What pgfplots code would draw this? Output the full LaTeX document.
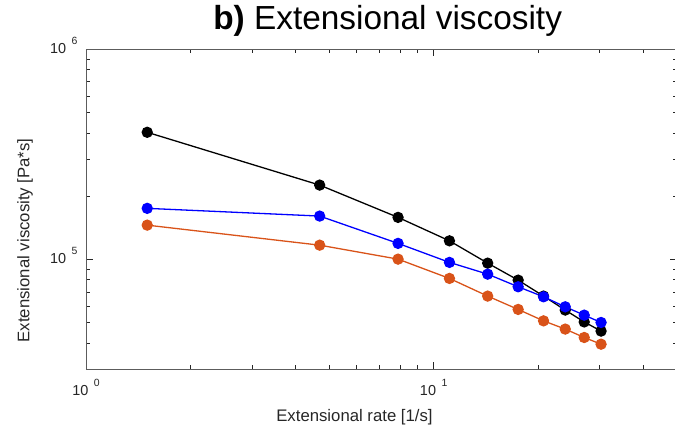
\documentclass[border=0pt]{standalone}
\usepackage{fontspec}
\setmainfont{Liberation Sans}
\usepackage{pgfplots}
\usepackage{pgfplotstable}
\pgfplotsset{compat=1.18}

\definecolor{mlorange}{rgb}{0.85,0.325,0.098}
\definecolor{axgray}{rgb}{0.15,0.15,0.15}

% MATLAB style "10 ^n" tick label
\newcommand{\dec}[1]{10\hspace{5.5bp}\raisebox{9bp}[0pt][0pt]{\fontsize{10.5}{10.5}\selectfont #1}}

% rate [1/s], extensional viscosity [Pa*s]
\pgfplotstableread{
rate  visc
1.5   402700
4.7   225800
7.9   158500
11.1  122600
14.3  96000
17.5  79700
20.7  66900
23.9  57400
27.1  50400
30.3  45600
}\blackdata
\pgfplotstableread{
rate  visc
1.5   175000
4.7   160800
7.9   119200
11.1  96800
14.3  85100
17.5  74100
20.7  66400
23.9  59500
27.1  54300
30.3  50100
}\bluedata
\pgfplotstableread{
rate  visc
1.5   145600
4.7   116900
7.9   100300
11.1  81200
14.3  66900
17.5  57800
20.7  51000
23.9  46600
27.1  42500
30.3  39500
}\orangedata

\begin{document}
\begin{tikzpicture}
\begin{axis}[
    name=ax,
    xmode=log, ymode=log,
    scale only axis, width=590.7bp, height=320bp,
    xmin=1, xmax=50, ymin=3e4, ymax=1e6,
    xtick={1,10}, xticklabels={\dec{0},\dec{1}},
    ytick={1e5,1e6}, yticklabels={\dec{5},\dec{6}},
    minor xtick={2,3,4,5,6,7,8,9,20,30,40},
    minor ytick={4e4,5e4,6e4,7e4,8e4,9e4,2e5,3e5,4e5,5e5,6e5,7e5,8e5,9e5},
    tick align=inside, major tick length=7bp, minor tick length=4bp,
    axis line style={axgray!75, line width=0.7bp},
    tick style={axgray, line width=0.7bp},
    ticklabel style={font=\fontsize{14.5}{14.5}\selectfont, text=axgray},
    xticklabel style={anchor=base, yshift=-26bp},
    yticklabel style={anchor=base east, yshift=-4bp, xshift=-5bp},
    xlabel={Extensional rate [1/s]},
    xlabel style={at={(axis description cs:0.4545,-0.1625)}, anchor=base,
        font=\fontsize{16.8}{16.8}\selectfont, text=axgray},
    ylabel={Extensional viscosity [Pa*s]},
    ylabel style={at={(axis description cs:-0.096,0.403)}, anchor=base,
        font=\fontsize{16.8}{16.8}\selectfont, text=axgray},
    title={\textbf{b)} Extensional viscosity},
    title style={at={(axis description cs:0.5107,1.0447)}, anchor=base,
        font=\fontsize{33.5}{33.5}\selectfont},
    every axis plot/.append style={line width=1.3bp, mark=*, mark size=5bp},
]
\addplot[mlorange, mark options={fill=mlorange}] table[x=rate, y=visc] {\orangedata};
\addplot[black, mark options={fill=black}] table[x=rate, y=visc] {\blackdata};
\addplot[blue, mark options={fill=blue}] table[x=rate, y=visc] {\bluedata};
\end{axis}
\pgfresetboundingbox
\path[use as bounding box] ([xshift=-86bp,yshift=-58bp]ax.south west)
    rectangle ([xshift=-1.7bp,yshift=49.3bp]ax.north east);
\end{tikzpicture}
\end{document}
